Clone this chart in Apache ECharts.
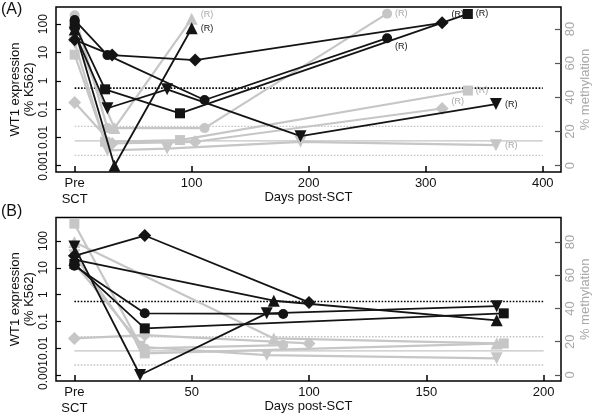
<!DOCTYPE html>
<html>
<head>
<meta charset="utf-8">
<script src="https://cdn.jsdelivr.net/npm/echarts@6/dist/echarts.min.js"></script>
<style>html,body{margin:0;padding:0;background:#fff}#c{width:600px;height:418px}</style>
</head>
<body>
<div id="c"></div>
<script>
// ---------- DATA ----------
// Panel A (relapse patients) — days post-SCT (0 = Pre SCT)
const daysA_circle  = [0, 28, 111, 267];
const wt1A_circle   = [140, 8.1, 0.21, 32];
const methA_circle  = [88, 22, 22, 89];

const daysA_diamond = [0, 32, 103, 314];
const wt1A_diamond  = [28, 8.1, 5.4, 112];
const methA_diamond = [37, 13, 14, 33.5];

const daysA_square  = [0, 26, 90, 336];
const wt1A_square   = [95, 0.5, 0.071, 230];
const methA_square  = [65, 14, 15, 44];

const daysA_triUp   = [0, 34, 100];
const wt1A_triUp    = [65, 0.001, 72];
const methA_triUp   = [76, 22, 86];

const daysA_triDown = [0, 28, 79, 193, 360];
const wt1A_triDown  = [50, 0.107, 0.5, 0.011, 0.15];
const methA_triDown = [72, 9, 10, 14, 12];

// Panel B (non-relapse patients)
const daysB_circle  = [0, 30, 89];
const wt1B_circle   = [12, 0.2, 0.19];
const methB_circle  = [67, 16, 18];

const daysB_diamond = [0, 30, 100];
const wt1B_diamond  = [28, 160, 0.51];
const methB_diamond = [22, 24, 19];

const daysB_square  = [0, 30, 183];
const wt1B_square   = [14, 0.055, 0.2];
const methB_square  = [91, 13, 19];

const daysB_triUp   = [0, 85, 180];
const wt1B_triUp    = [20, 0.59, 0.11];
const methB_triUp   = [80, 22, 19];

const daysB_triDown = [0, 28, 82, 180];
const wt1B_triDown  = [62, 0.001, 0.2, 0.37];
const methB_triDown = [72, 17, 12, 10];

// Reference thresholds
const wt1Threshold = 0.55;              // black dotted (left axis)
const methDotted = [23, 6];             // gray dotted (right axis)
const methSolid = [14.5];               // gray solid (right axis)
const refSpanA = [0, 400];
const refSpanB = [0, 200];

// Axis ticks
const xTicksA = [0, 100, 200, 300, 400];
const xTicksB = [0, 50, 100, 150, 200];
const wt1Ticks = [0.001, 0.01, 0.1, 1, 10, 100];
const methTicks = [0, 20, 40, 60, 80];
const relapseLabel = '(R)';

// ---------- STYLE ----------
const FONT = '"Liberation Sans", Arial, sans-serif';
const BLACK = '#141414';
const GRAY = '#c6c6c6';
const LABGRAY = '#a8a8a8';

const markerStyle = {
  circle:  {symbol: 'circle', size: 10, rotate: 0},
  diamond: {symbol: 'diamond', size: 13, rotate: 0},
  square:  {symbol: 'rect', size: 10, rotate: 0},
  triUp:   {symbol: 'triangle', size: 12, rotate: 0},
  triDown: {symbol: 'triangle', size: 12, rotate: 180}
};

function pts(days, vals, relapse, labelOpt) {
  return days.map((d, i) => {
    if (relapse && i === days.length - 1) {
      return {value: [d, vals[i]], label: Object.assign({show: true, formatter: relapseLabel}, labelOpt || {})};
    }
    return [d, vals[i]];
  });
}

function series(panel, kind, days, vals, isWt1, relapse, labelOpt) {
  const m = markerStyle[kind];
  const col = isWt1 ? BLACK : GRAY;
  return {
    type: 'line',
    xAxisIndex: panel,
    yAxisIndex: panel * 2 + (isWt1 ? 0 : 1),
    data: pts(days, vals, relapse, labelOpt),
    symbol: m.symbol,
    symbolSize: m.size,
    symbolRotate: m.rotate,
    showAllSymbol: true,
    lineStyle: {color: col, width: isWt1 ? 1.8 : 2.2},
    itemStyle: {color: col},
    z: isWt1 ? 5 : 3,
    silent: true,
    animation: false,
    label: {show: false, position: 'right', distance: 3, fontSize: 9, fontFamily: FONT, color: isWt1 ? BLACK : LABGRAY}
  };
}

function refLine(panel, span, y, isWt1, dotted) {
  return {
    type: 'line',
    xAxisIndex: panel,
    yAxisIndex: panel * 2 + (isWt1 ? 0 : 1),
    data: [[span[0], y], [span[1], y]],
    symbol: 'none',
    lineStyle: {color: isWt1 ? '#000' : '#c4c4c4', width: isWt1 ? 1.6 : 1.3, type: dotted ? [1.6, 1.6] : 'solid'},
    z: 1, silent: true, animation: false
  };
}

const allSeries = [];
[[0, refSpanA], [1, refSpanB]].forEach(([p, span]) => {
  methDotted.forEach(v => allSeries.push(refLine(p, span, v, false, true)));
  methSolid.forEach(v => allSeries.push(refLine(p, span, v, false, false)));
  allSeries.push(refLine(p, span, wt1Threshold, true, true));
});

// Panel A gray (methylation)
allSeries.push(series(0, 'circle', daysA_circle, methA_circle, false, true));
allSeries.push(series(0, 'diamond', daysA_diamond, methA_diamond, false, true, {offset: [0, -7]}));
allSeries.push(series(0, 'square', daysA_square, methA_square, false, true));
allSeries.push(series(0, 'triUp', daysA_triUp, methA_triUp, false, true, {offset: [0, -4]}));
allSeries.push(series(0, 'triDown', daysA_triDown, methA_triDown, false, true));
// Panel A black (WT1)
allSeries.push(series(0, 'circle', daysA_circle, wt1A_circle, true, true, {offset: [0, 8]}));
allSeries.push(series(0, 'diamond', daysA_diamond, wt1A_diamond, true, true, {offset: [0, -8]}));
allSeries.push(series(0, 'square', daysA_square, wt1A_square, true, true));
allSeries.push(series(0, 'triUp', daysA_triUp, wt1A_triUp, true, true));
allSeries.push(series(0, 'triDown', daysA_triDown, wt1A_triDown, true, true));
// Panel B gray
allSeries.push(series(1, 'circle', daysB_circle, methB_circle, false, false));
allSeries.push(series(1, 'diamond', daysB_diamond, methB_diamond, false, false));
allSeries.push(series(1, 'square', daysB_square, methB_square, false, false));
allSeries.push(series(1, 'triUp', daysB_triUp, methB_triUp, false, false));
allSeries.push(series(1, 'triDown', daysB_triDown, methB_triDown, false, false));
// Panel B black
allSeries.push(series(1, 'circle', daysB_circle, wt1B_circle, true, false));
allSeries.push(series(1, 'diamond', daysB_diamond, wt1B_diamond, true, false));
allSeries.push(series(1, 'square', daysB_square, wt1B_square, true, false));
allSeries.push(series(1, 'triUp', daysB_triUp, wt1B_triUp, true, false));
allSeries.push(series(1, 'triDown', daysB_triDown, wt1B_triDown, true, false));

function fmtLog(v) {
  const e = Math.round(Math.log10(v));
  return e >= 0 ? String(Math.pow(10, e)) : Math.pow(10, e).toFixed(-e);
}

function xAxis(grid, min, max, ticks) {
  return {
    gridIndex: grid, type: 'value', min: min, max: max,
    axisLine: {show: false, onZero: false}, splitLine: {show: false},
    axisTick: {show: true, inside: true, length: 6, customValues: ticks, lineStyle: {color: '#000', width: 1.5}},
    axisLabel: {customValues: ticks, hideOverlap: false, showMinLabel: true, showMaxLabel: true, margin: 3, fontSize: 13, lineHeight: 16, fontFamily: FONT, color: '#111',
      formatter: v => v === 0 ? 'Pre\nSCT' : String(v)},
    name: 'Days post-SCT', nameLocation: 'middle', nameGap: 19, nameMoveOverlap: false,
    nameTextStyle: {fontSize: 13, fontFamily: FONT, color: '#111', verticalAlign: 'top'}
  };
}

function yLeft(grid, min, max) {
  return {
    gridIndex: grid, type: 'log', logBase: 10, min: min, max: max, position: 'left',
    axisLine: {show: false, onZero: false}, splitLine: {show: false},
    axisTick: {show: true, inside: true, length: 5, customValues: wt1Ticks, lineStyle: {color: '#000', width: 1.2}},
    axisLabel: {customValues: wt1Ticks, hideOverlap: false, showMinLabel: true, showMaxLabel: true, rotate: 90, margin: 6, fontSize: 12, fontFamily: FONT, color: '#111', formatter: fmtLog},
    name: 'WT1 expression\n(% K562)', nameLocation: 'middle', nameRotate: 90, nameGap: 20, nameMoveOverlap: false,
    nameTextStyle: {fontSize: 13, lineHeight: 14, fontFamily: FONT, color: '#111'}
  };
}

function yRight(grid, min, max) {
  return {
    gridIndex: grid, type: 'value', min: min, max: max, position: 'right',
    axisLine: {show: false, onZero: false}, splitLine: {show: false},
    axisTick: {show: true, inside: true, length: 6, customValues: methTicks, lineStyle: {color: '#555', width: 1.2}},
    axisLabel: {customValues: methTicks, hideOverlap: false, showMinLabel: true, showMaxLabel: true, rotate: 90, margin: 3, fontSize: 13, fontFamily: FONT, color: LABGRAY},
    name: '% methylation', nameLocation: 'middle', nameRotate: 90, nameGap: 18, nameMoveOverlap: false,
    nameTextStyle: {fontSize: 13, fontFamily: FONT, color: LABGRAY}
  };
}

const chart = echarts.init(document.getElementById('c'), null, {renderer: 'canvas'});
chart.setOption({
  animation: false,
  backgroundColor: '#fff',
  textStyle: {fontFamily: FONT},
  grid: [
    {left: 56, top: 7, width: 511, height: 165, show: true, borderColor: '#000', borderWidth: 1.5, backgroundColor: 'transparent'},
    {left: 56, top: 217.5, width: 511, height: 163.5, show: true, borderColor: '#000', borderWidth: 1.5, backgroundColor: 'transparent'}
  ],
  xAxis: [xAxis(0, -15.96, 415.6, xTicksA), xAxis(1, -7.83, 207.4, xTicksB)],
  yAxis: [
    yLeft(0, Math.pow(10, -3.223), Math.pow(10, 2.608)), yRight(0, -3.69, 92.9),
    yLeft(1, Math.pow(10, -3.224), Math.pow(10, 2.877)), yRight(1, -3.61, 94.7)
  ],
  graphic: [
    {type: 'text', left: 1, top: 2, style: {text: '(A)', fontSize: 16, fontFamily: FONT, fill: '#111'}},
    {type: 'text', left: 1, top: 204, style: {text: '(B)', fontSize: 16, fontFamily: FONT, fill: '#111'}}
  ],
  series: allSeries
});
</script>
</body>
</html>
